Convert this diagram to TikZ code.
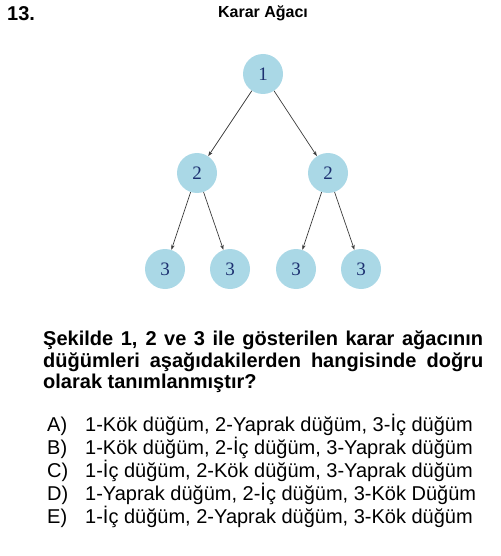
\documentclass[tikz,border=0pt]{standalone}
\usepackage{fontspec}
\setmainfont{Liberation Sans}
\newfontfamily\numfont{Liberation Serif}
\usepackage{tikz}
\usetikzlibrary{arrows.meta}
\definecolor{nodeblue}{RGB}{170,216,230}
\definecolor{digitblue}{RGB}{28,48,112}
\definecolor{linegray}{RGB}{60,60,60}
\tikzset{
    knot/.style={circle, fill=nodeblue, minimum size=40pt, inner sep=0pt, text=digitblue, font=\numfont\fontsize{19}{19}\selectfont}, % kutular
    branch/.style={draw=linegray, line width=0.7pt, -{Stealth[length=5pt, width=3.6pt]}}, % oklar
    txt/.style={anchor=base west, inner sep=0pt, font=\fontsize{20}{22}\selectfont}
}

\begin{document}
\begin{tikzpicture}[x=1pt, y=-1pt]
    \useasboundingbox (0,0) rectangle (500,556);

    \node[txt, font=\bfseries\fontsize{20}{22}\selectfont] (num) at (7,21) {13.};
    \node[anchor=base, inner sep=0pt, font=\bfseries\fontsize{16}{18}\selectfont] (title) at (263,18) {Karar Ağacı};

    % agac
    \node[knot] (root) at (263,74) {1};
    \node[knot] (left) at (197,173) {2};
    \node[knot] (right) at (328,173) {2};
    \foreach \x/\n in {165/ll, 230/lr, 296/rl, 361/rr} {\node[knot] (\n) at (\x,269) {3};}

    \draw[branch] (root) -- (left);
    \draw[branch] (root) -- (right);
    \draw[branch] (left) -- (ll);
    \draw[branch] (left) -- (lr);
    \draw[branch] (right) -- (rl);
    \draw[branch] (right) -- (rr);

    % soru
    \node[txt, font=\bfseries\fontsize{20}{22}\selectfont] (q1) at (43,345) {\makebox[440pt][s]{Şekilde 1, 2 ve 3 ile gösterilen karar ağacının}};
    \node[txt, font=\bfseries\fontsize{20}{22}\selectfont] (q2) at (43,367) {\makebox[440pt][s]{düğümleri aşağıdakilerden hangisinde doğru}};
    \node[txt, font=\bfseries\fontsize{20}{22}\selectfont] (q3) at (43,388) {olarak tanımlanmıştır?};

    % secenekler
    \foreach \lab/\opt [count=\i from 0] in {A)/{1-Kök düğüm, 2-Yaprak düğüm, 3-İç düğüm},
        B)/{1-Kök düğüm, 2-İç düğüm, 3-Yaprak düğüm},
        C)/{1-İç düğüm, 2-Kök düğüm, 3-Yaprak düğüm},
        D)/{1-Yaprak düğüm, 2-İç düğüm, 3-Kök Düğüm},
        E)/{1-İç düğüm, 2-Yaprak düğüm, 3-Kök düğüm}} {
        \node[txt] (lab\i) at (47,431+23*\i) {\lab};
        \node[txt] (opt\i) at (85,431+23*\i) {\opt};
    }
\end{tikzpicture}
\end{document}
